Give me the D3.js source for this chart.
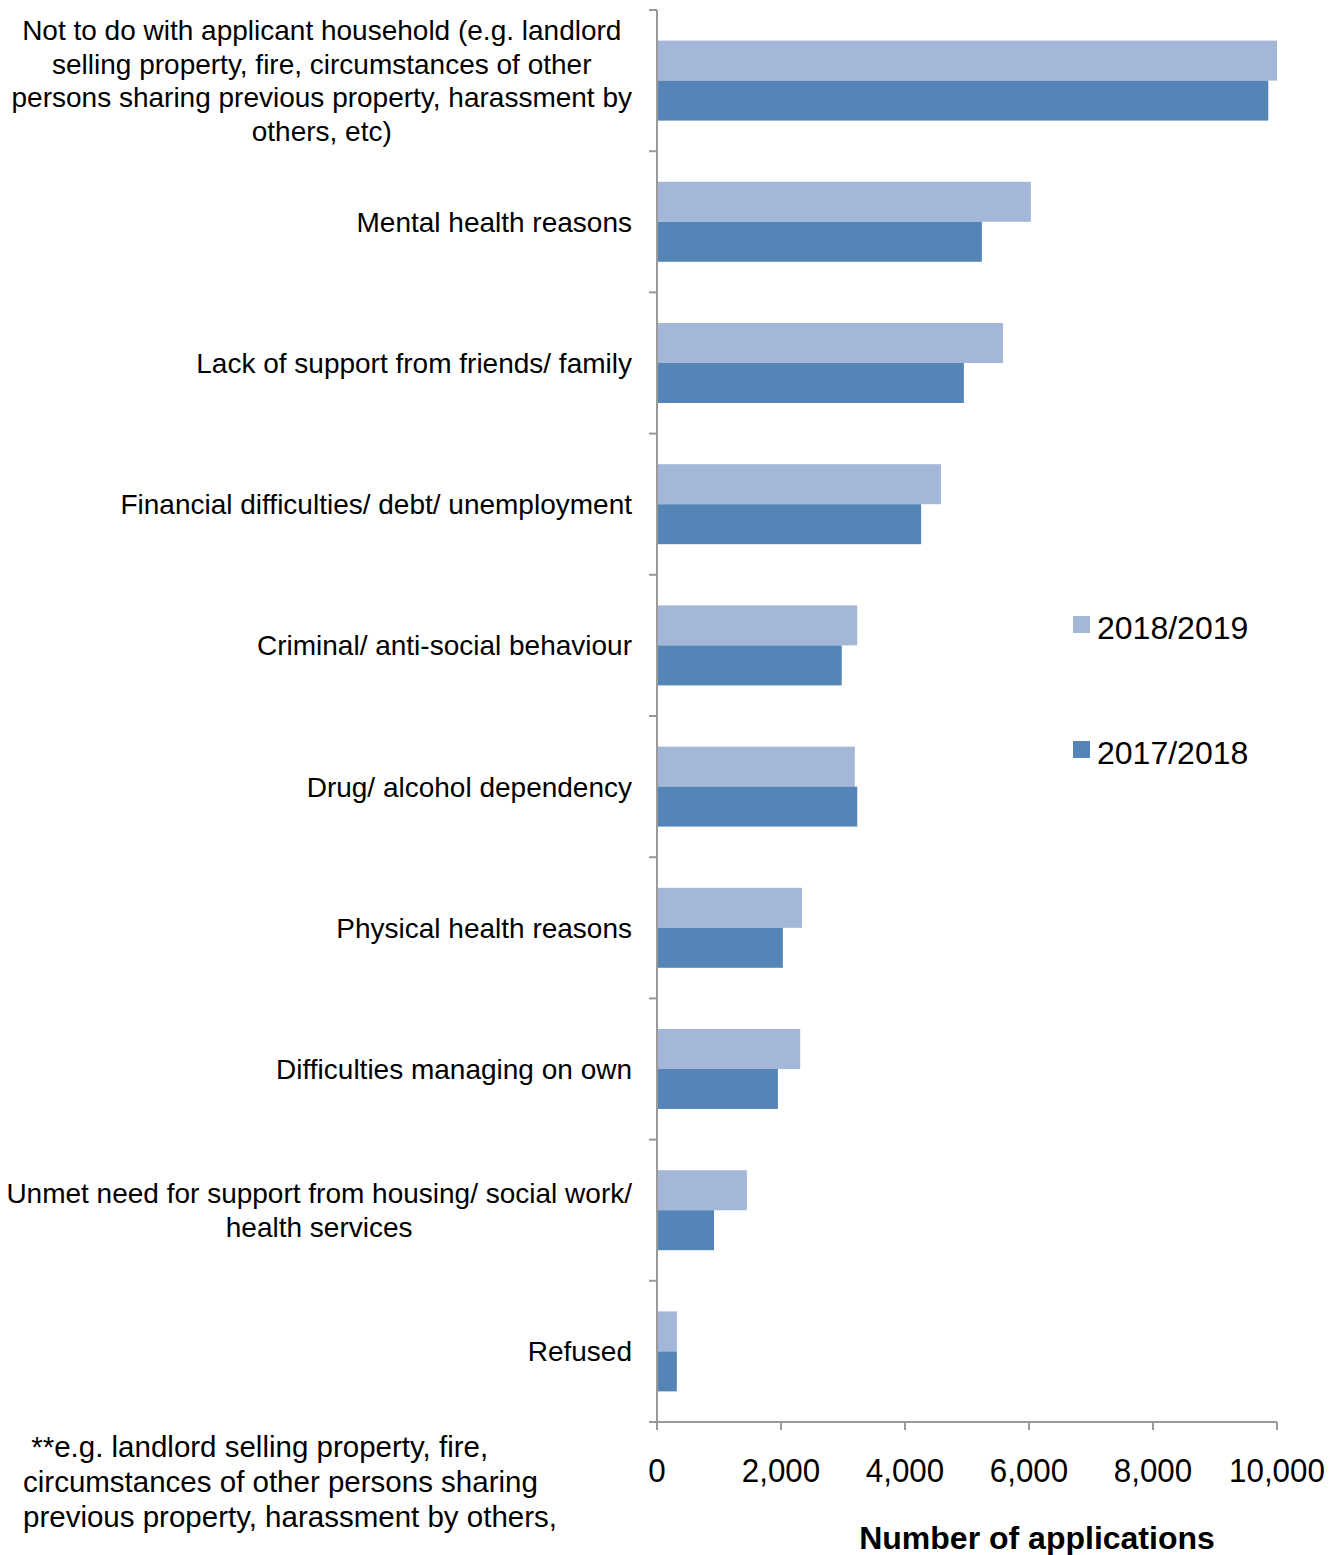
<!DOCTYPE html>
<html><head><meta charset="utf-8">
<script src="https://cdn.jsdelivr.net/npm/d3@7"></script>
<style>body{margin:0;background:#fff}svg text{font-family:"Liberation Sans",Arial,sans-serif;fill:#000}</style>
</head><body><svg id="c" width="1342" height="1555"></svg>
<script>
const categories = [
  ["Not to do with applicant household (e.g. landlord","selling property, fire, circumstances of other","persons sharing previous property, harassment by","others, etc)"],
  ["Mental health reasons"],
  ["Lack of support from friends/ family"],
  ["Financial difficulties/ debt/ unemployment"],
  ["Criminal/ anti-social behaviour"],
  ["Drug/ alcohol dependency"],
  ["Physical health reasons"],
  ["Difficulties managing on own"],
  ["Unmet need for support from housing/ social work/","health services"],
  ["Refused"]
];
const seriesNames = ["2018/2019","2017/2018"];
const values2018_19 = [10000, 6030, 5580, 4580, 3230, 3190, 2340, 2310, 1450, 320];
const values2017_18 = [9860, 5240, 4950, 4260, 2980, 3230, 2030, 1950, 920, 320];
const xTicks = [0, 2000, 4000, 6000, 8000, 10000];
const colors = ["#a4b7d8", "#5585b6"];
const axisTitle = "Number of applications";
const footnote = [" **e.g. landlord selling property, fire,","circumstances of other persons sharing","previous property, harassment by others,"];

const svg = d3.select("#c");
const x = d3.scaleLinear().domain([0,10000]).range([657,1277]);
const y = d3.scaleBand().domain(d3.range(categories.length)).range([10,1422]).paddingInner(0).paddingOuter(0);
const barH = 40;
const series = [values2018_19, values2017_18];

series.forEach((vals,si)=>{
  svg.append("g").selectAll("rect").data(vals).join("rect")
    .attr("x", x(0)).attr("width", d=>x(d)-x(0))
    .attr("y", (d,i)=>y(i)+y.bandwidth()/2 - barH + si*barH)
    .attr("height", barH).attr("fill", colors[si]);
});

// y axis
const ya = svg.append("g");
ya.append("line").attr("x1",657).attr("x2",657).attr("y1",10).attr("y2",1422).attr("stroke","#9a9a9a").attr("stroke-width",2);
const yt = d3.range(categories.length+1).map(i=> i<categories.length ? y(i) : 1422);
ya.selectAll("line.t").data(yt).join("line").attr("class","t")
  .attr("x1",649).attr("x2",657).attr("y1",d=>d).attr("y2",d=>d).attr("stroke","#9a9a9a").attr("stroke-width",2);

// x axis
const xa = svg.append("g");
xa.append("line").attr("x1",657).attr("x2",1277).attr("y1",1422).attr("y2",1422).attr("stroke","#9a9a9a").attr("stroke-width",2);
xa.selectAll("line.t").data(xTicks).join("line").attr("class","t")
  .attr("x1",d=>x(d)).attr("x2",d=>x(d)).attr("y1",1422).attr("y2",1430).attr("stroke","#9a9a9a").attr("stroke-width",2);
xa.selectAll("text").data(xTicks).join("text")
  .attr("x",d=>x(d)).attr("y",1482).attr("text-anchor","middle")
  .attr("font-size",33).attr("transform",d=>`translate(${x(d)},0) scale(0.95,1) translate(${-x(d)},0)`)
  .text(d=>d3.format(",")(d));

// category labels
const lh = 33.5;
categories.forEach((lines,i)=>{
  const g = svg.append("g");
  const cy = y(i)+y.bandwidth()/2;
  const t = g.selectAll("text").data(lines).join("text")
    .attr("font-size",28).attr("text-anchor","middle")
    .attr("y",(d,j)=>cy + (j-(lines.length-1)/2)*lh + 10)
    .text(d=>d);
  let maxW = 0;
  t.each(function(){maxW=Math.max(maxW,this.getComputedTextLength());});
  t.attr("x", 632 - maxW/2);
});

// legend
const legY = [628, 753];
seriesNames.forEach((n,i)=>{
  svg.append("rect").attr("x",1073).attr("y",legY[i]-12).attr("width",17).attr("height",17).attr("fill",colors[i]);
  svg.append("text").attr("x",1097).attr("y",legY[i]+11).attr("font-size",32).text(n);
});

// axis title
svg.append("text").attr("x",1037).attr("y",1549).attr("text-anchor","middle").attr("font-size",32).attr("font-weight","bold").text(axisTitle);

// footnote
svg.append("g").selectAll("text").data(footnote).join("text")
  .attr("x",23).attr("y",(d,i)=>1457+i*35).attr("font-size",29.5).style("white-space","pre").text(d=>d);
</script></body></html>
